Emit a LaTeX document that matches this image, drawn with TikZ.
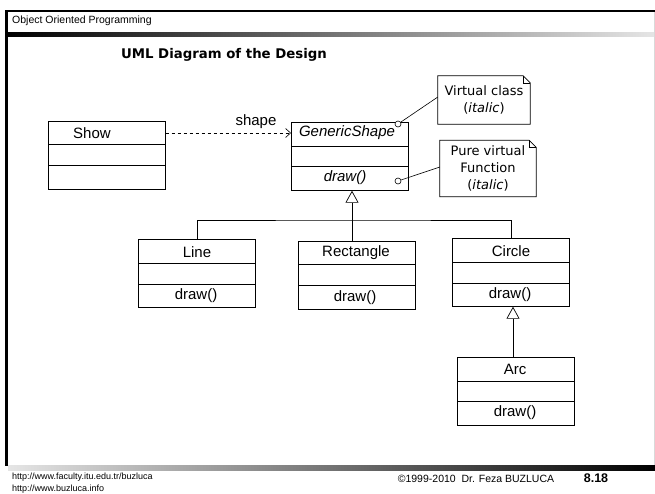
\documentclass[tikz,border=0pt]{standalone}
\usepackage{fontspec}
\setmainfont{Liberation Sans}
\newfontfamily\comic{DejaVu Sans}
\usetikzlibrary{arrows.meta}
\tikzset{
  classbox/.style={draw, line width=0.7pt, minimum width=117pt, minimum height=68pt, inner sep=0pt, anchor=north west},
  cline/.style={line width=0.7pt},
  cname/.style={font=\fontsize{15}{18}\selectfont, inner sep=0pt},
  notebox/.style={inner sep=0pt, align=center, font=\comic\fontsize{13}{17}\selectfont},
  inh/.style={line width=0.7pt, -{Triangle[open, length=12pt, width=13pt, fill=white]}},
  dep/.style={line width=0.6pt, dashed, -{Straight Barb[length=5pt, width=9pt]}},
  pin/.style={circle, draw, minimum size=6pt, inner sep=0pt, line width=0.6pt, fill=white},
  foot/.style={font=\fontsize{9}{11}\selectfont, inner sep=0pt}
}
\begin{document}
\begin{tikzpicture}[x=1pt,y=-1pt]
\useasboundingbox (0,0) rectangle (655,493);
% slide frame
\fill[black] (5,9.5) rectangle (655,12);
\shade[left color=black, right color=black!10] (7,32) rectangle (655,36);
\fill[black] (5,9.5) rectangle (8,466);
\shade[left color=black!10, right color=black] (8,465) rectangle (655,470);
\draw[black!15] (654.5,12) -- (654.5,465);
\node[anchor=west, font=\fontsize{10.5}{12}\selectfont, inner sep=0pt] (hdr) at (12,21) {Object Oriented Programming};
\node[font=\comic\bfseries\fontsize{13.3}{15}\selectfont, inner sep=0pt] (title) at (224,55) {UML Diagram of the Design};

% classes
\node[classbox] (show) at (48,121) {};
\draw[cline] ([yshift=-23pt]show.north west) -- ([yshift=-23pt]show.north east);
\draw[cline] ([yshift=-44pt]show.north west) -- ([yshift=-44pt]show.north east);
\node[cname] (showname) at (92,133) {Show};

\node[classbox] (gs) at (291,122) {};
\draw[cline] ([yshift=-24pt]gs.north west) -- ([yshift=-24pt]gs.north east);
\draw[cline] ([yshift=-44pt]gs.north west) -- ([yshift=-44pt]gs.north east);
\node[cname, font=\itshape\fontsize{15}{18}\selectfont] (gsname) at (347,133) {GenericShape};
\node[cname, font=\itshape\fontsize{15}{18}\selectfont] (gsdraw) at (345,178) {draw()};

\node[classbox] (line) at (138,239) {};
\draw[cline] ([yshift=-24pt]line.north west) -- ([yshift=-24pt]line.north east);
\draw[cline] ([yshift=-45pt]line.north west) -- ([yshift=-45pt]line.north east);
\node[cname] (linename) at (197,252) {Line};
\node[cname] (linedraw) at (196,296) {draw()};

\node[classbox] (rect) at (298,241) {};
\draw[cline] ([yshift=-23pt]rect.north west) -- ([yshift=-23pt]rect.north east);
\draw[cline] ([yshift=-44pt]rect.north west) -- ([yshift=-44pt]rect.north east);
\node[cname] (rectname) at (356,253) {Rectangle};
\node[cname] (rectdraw) at (355,298) {draw()};

\node[classbox] (circ) at (452,238) {};
\draw[cline] ([yshift=-24pt]circ.north west) -- ([yshift=-24pt]circ.north east);
\draw[cline] ([yshift=-45pt]circ.north west) -- ([yshift=-45pt]circ.north east);
\node[cname] (circname) at (511,251) {Circle};
\node[cname] (circdraw) at (510,295) {draw()};

\node[classbox] (arc) at (457,357) {};
\draw[cline] ([yshift=-24pt]arc.north west) -- ([yshift=-24pt]arc.north east);
\draw[cline] ([yshift=-44pt]arc.north west) -- ([yshift=-44pt]arc.north east);
\node[cname] (arcname) at (515,369) {Arc};
\node[cname] (arcdraw) at (515,413) {draw()};

% dependency
\draw[dep] (show.east |- showname) -- (gs.west |- showname);
\node[cname] (shapelbl) at (256,122) {shape};

% inheritance
\coordinate (hub) at (352,220);
\draw[inh] (hub |- rect.north) -- (hub |- gs.south);
\draw[line width=0.7pt] (line.north) |- (hub) -| (circ.north);
\coordinate (arcx) at (513,0);
\draw[inh] (arc.north -| arcx) -- (circ.south -| arcx);

% notes
\node[notebox, minimum width=92pt, minimum height=48pt] (n1) at (484,100) {Virtual class\\(\textit{italic})};
\draw[line width=0.7pt] (n1.north west) -- ([xshift=-7pt]n1.north east) -- ([yshift=-7pt]n1.north east) -- (n1.south east) -- (n1.south west) -- cycle;
\draw[line width=0.5pt] ([xshift=-7pt]n1.north east) -- ([xshift=-7pt,yshift=-7pt]n1.north east) -- ([yshift=-7pt]n1.north east);
\node[notebox, minimum width=96pt, minimum height=56pt] (n2) at (488,168.5) {Pure virtual\\Function\\(\textit{italic})};
\draw[line width=0.7pt] (n2.north west) -- ([xshift=-7pt]n2.north east) -- ([yshift=-7pt]n2.north east) -- (n2.south east) -- (n2.south west) -- cycle;
\draw[line width=0.5pt] ([xshift=-7pt]n2.north east) -- ([xshift=-7pt,yshift=-7pt]n2.north east) -- ([yshift=-7pt]n2.north east);
\node[pin] (c1) at (398,124) {};
\node[pin] (c2) at (398,181) {};
\draw[line width=0.6pt] (c1) -- ([yshift=3pt]n1.west);
\draw[line width=0.6pt] (c2) -- ([yshift=1.5pt]n2.west);

% footer
\node[foot, anchor=west] (f1) at (12,477) {http://www.faculty.itu.edu.tr/buzluca};
\node[foot, anchor=west] (f2) at (12,489) {http://www.buzluca.info};
\node[inner sep=0pt, font=\fontsize{10.5}{12}\selectfont] (copy) at (476,479) {\textcopyright1999-2010\ \ Dr. Feza BUZLUCA};
\node[inner sep=0pt, font=\bfseries\fontsize{12.5}{14}\selectfont] (pg) at (596,478) {8.18};
\end{tikzpicture}
\end{document}
